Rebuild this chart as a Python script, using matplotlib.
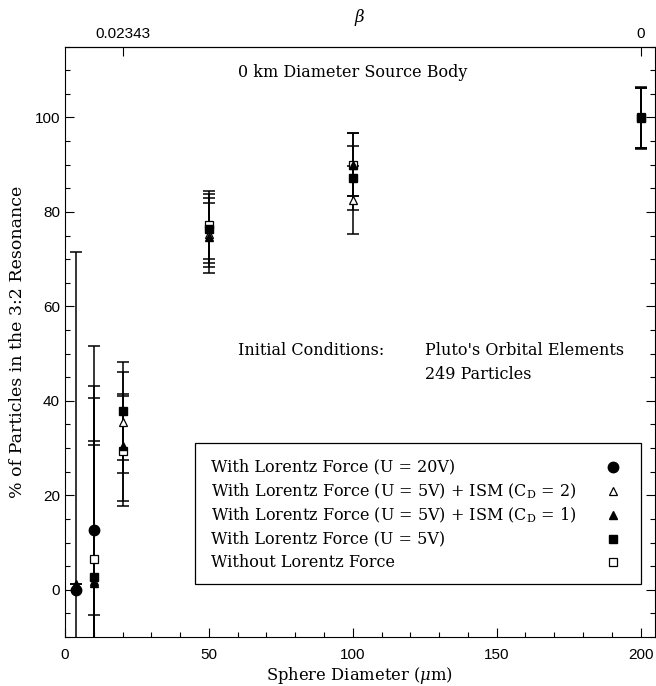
import numpy as np
import matplotlib.pyplot as plt
from matplotlib.patches import Rectangle

plt.rcParams['mathtext.fontset'] = 'dejavuserif'

# series: x positions, values, lower / upper error-bar ends
circ_x = [4, 10]
circ_y = [0.0, 12.6]
circ_lo = [-71.6, -26.5]
circ_hi = [71.6, 51.7]

otri_x = [10, 20, 50, 100, 200]
otri_y = [1.8, 35.5, 75.3, 82.6, 100.0]
otri_lo = [-27.0, 24.7, 68.3, 75.4, 93.6]
otri_hi = [30.6, 46.1, 83.0, 89.8, 106.3]

ftri_x = [4, 10, 20, 50, 100, 200]
ftri_y = [1.2, 1.5, 30.4, 74.7, 90.0, 100.0]
ftri_lo = [1.2, -28.4, 18.7, 67.0, 83.3, 93.6]
ftri_hi = [1.2, 31.4, 41.5, 81.9, 96.7, 106.3]

fsq_x = [10, 20, 50, 100, 200]
fsq_y = [2.8, 37.8, 76.3, 87.2, 99.8]
fsq_lo = [-35.0, 27.4, 69.2, 80.4, 93.4]
fsq_hi = [40.7, 48.2, 83.8, 93.9, 106.2]

osq_x = [10, 20, 50, 100, 200]
osq_y = [6.5, 29.3, 77.3, 90.0, 100.0]
osq_lo = [-5.4, 17.8, 70.1, 83.3, 93.6]
osq_hi = [43.2, 41.0, 84.4, 96.7, 106.4]

labels = ["With Lorentz Force (U = 20V)",
          "With Lorentz Force (U = 5V) + ISM (C$_{\\rm D}$ = 2)",
          "With Lorentz Force (U = 5V) + ISM (C$_{\\rm D}$ = 1)",
          "With Lorentz Force (U = 5V)",
          "Without Lorentz Force"]

beta_pos = [20, 200]
beta_labels = ["0.02343", "0"]

styles = [dict(marker="o", ms=7.5, mfc="black", mec="black"),
          dict(marker="^", ms=6, mfc="white", mec="black", mew=0.9),
          dict(marker="^", ms=6, mfc="black", mec="black"),
          dict(marker="s", ms=6, mfc="black", mec="black"),
          dict(marker="s", ms=6, mfc="white", mec="black", mew=0.9)]

series = [(circ_x, circ_y, circ_lo, circ_hi),
          (otri_x, otri_y, otri_lo, otri_hi),
          (ftri_x, ftri_y, ftri_lo, ftri_hi),
          (fsq_x, fsq_y, fsq_lo, fsq_hi),
          (osq_x, osq_y, osq_lo, osq_hi)]

serif = "DejaVu Serif"
sans = "Liberation Sans"

fig = plt.figure(figsize=(6.56, 6.86), dpi=100)
ax = fig.add_axes([0.099, 0.0714, 0.8994, 0.8606])

# error bars first, then markers on top (open square at the bottom of the stack)
for (x, y, lo, hi), st in zip(series, styles):
    y = np.array(y)
    yerr = [y - np.array(lo), np.array(hi) - y]
    ax.errorbar(x, y, yerr=yerr, fmt="none", ecolor="black",
                elinewidth=1.1, capsize=4.5, capthick=1.1, zorder=2)
draw_order = [4, 1, 2, 3, 0]
for i in draw_order:
    x, y, lo, hi = series[i]
    ax.plot(x, y, linestyle="none", zorder=3, **styles[i])

ax.set_xlim(0, 205)
ax.set_ylim(-10, 115)
ax.set_xticks(np.arange(0, 201, 50))
ax.set_xticks(np.arange(0, 201, 10), minor=True)
ax.set_yticks(np.arange(0, 101, 20))
ax.set_yticks(np.arange(-10, 116, 5), minor=True)
ax.tick_params(axis="both", which="both", direction="in", labelsize=11)
ax.tick_params(axis="y", which="both", right=True)
ax.tick_params(axis="x", which="both", top=False)
ax.tick_params(which="major", length=6.5, width=0.8)
ax.tick_params(which="minor", length=3.5, width=0.8)
ax.tick_params(axis="x", pad=8)
for lab in ax.get_xticklabels() + ax.get_yticklabels():
    lab.set_fontfamily(sans)

ax.set_xlabel("Sphere Diameter ($\\mu$m)", fontfamily=serif, fontsize=11.8, labelpad=2)
ax.set_ylabel("% of Particles in the 3:2 Resonance", fontfamily=serif, fontsize=12.5, labelpad=6)

top = ax.secondary_xaxis("top")
top.set_xticks(beta_pos)
top.set_xticklabels(beta_labels, fontfamily=sans, fontsize=11)
top.tick_params(direction="in", length=6.5, width=0.8, pad=4)
top.set_xlabel("$\\beta$", fontsize=12, labelpad=4)

txt = dict(transform=ax.transAxes, fontfamily=serif, fontsize=11.5, va="center")
ax.text(0.293, 0.957, "0 km Diameter Source Body", **txt)
ax.text(0.293, 0.486, "Initial Conditions:", **txt)
ax.text(0.610, 0.486, "Pluto's Orbital Elements", **txt)
ax.text(0.610, 0.4455, "249 Particles", **txt)

# legend box drawn by hand, markers in a right-hand column
ax.add_patch(Rectangle((0.220, 0.0898), 0.757, 0.238, transform=ax.transAxes,
                       fill=False, edgecolor="black", linewidth=0.9, zorder=4))
rows = [0.288, 0.247, 0.207, 0.166, 0.127]
for lab, st, ry in zip(labels, styles, rows):
    ax.text(0.247, ry, lab, zorder=5, **txt)
    ax.plot([0.929], [ry], transform=ax.transAxes, linestyle="none",
            zorder=5, **st)

fig.savefig("out.png", dpi=100)
